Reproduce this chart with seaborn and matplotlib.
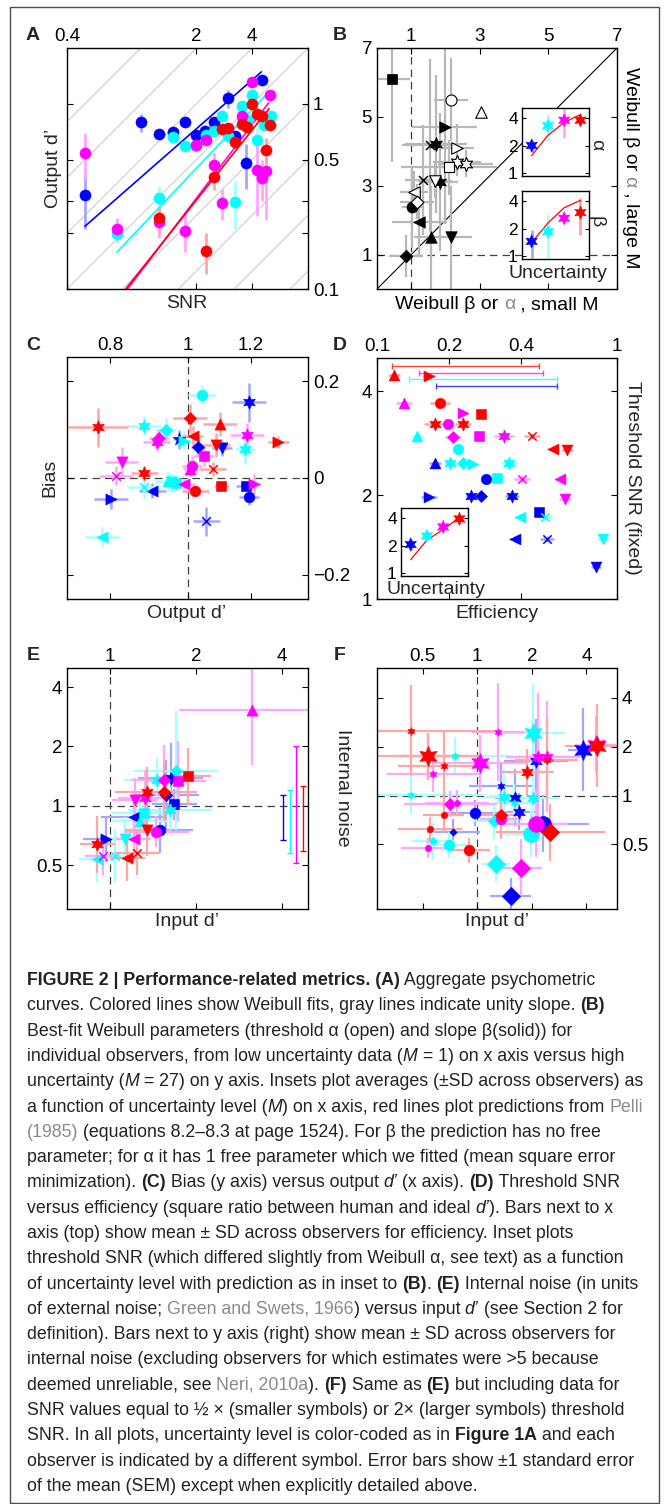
import numpy as np
import pandas as pd
import matplotlib
matplotlib.use('Agg')
import matplotlib.pyplot as plt
from matplotlib.ticker import NullLocator
from matplotlib.patches import Rectangle
from matplotlib import font_manager as fm
import seaborn as sns

# ---------------- DATA ----------------
ORDER = ['b', 'c', 'm', 'r']

# Panel A: SNR vs output d'
A_blue_x = [0.50, 1.00, 1.25, 1.49, 1.74, 1.99, 2.23, 2.48, 2.97, 3.23, 3.70, 4.49]
A_blue_y = [0.320, 0.794, 0.69, 0.701, 0.80, 0.676, 0.716, 0.797, 1.068, 0.667, 0.476, 1.346]
A_blue_e = [0.11, 0.09, 0.03, 0.03, 0.03, 0.03, 0.03, 0.03, 0.12, 0.04, 0.13, 0.08]
A_cyan_x = [0.746, 1.25, 1.49, 1.74, 1.99, 2.25, 2.48, 2.74, 2.97, 3.23, 3.51, 3.78, 4.0, 4.22, 4.64, 5.04]
A_cyan_y = [0.198, 0.311, 0.662, 0.59, 0.59, 0.681, 0.71, 0.855, 0.667, 0.296, 0.976, 0.82, 1.118, 0.64, 0.771, 0.855]
A_cyan_e = [0.02, 0.05, 0.04, 0.03, 0.03, 0.04, 0.03, 0.04, 0.05, 0.085, 0.06, 0.05, 0.08, 0.17, 0.06, 0.05]
A_mag_x = [0.50, 0.746, 1.25, 1.74, 1.99, 2.25, 2.48, 2.74, 3.51, 3.97, 4.22, 4.49, 4.74, 4.98]
A_mag_y = [0.543, 0.212, 0.230, 0.206, 0.597, 0.635, 0.47, 0.292, 0.862, 1.318, 0.438, 0.398, 0.435, 1.109]
A_mag_e = [0.15, 0.03, 0.042, 0.047, 0.03, 0.03, 0.07, 0.055, 0.05, 0.06, 0.19, 0.1, 0.2, 0.06]
A_red_x = [1.25, 2.25, 2.48, 2.74, 2.97, 3.23, 3.51, 3.73, 3.97, 4.22, 4.49, 4.74, 4.98]
A_red_y = [0.241, 0.161, 0.402, 0.731, 0.74, 0.62, 0.777, 0.746, 0.992, 0.88, 0.855, 0.566, 0.771]
A_red_e = [0.04, 0.04, 0.06, 0.03, 0.03, 0.04, 0.04, 0.03, 0.05, 0.04, 0.04, 0.09, 0.04]
A_DATA = {'b': (A_blue_x, A_blue_y, A_blue_e), 'c': (A_cyan_x, A_cyan_y, A_cyan_e),
          'm': (A_mag_x, A_mag_y, A_mag_e), 'r': (A_red_x, A_red_y, A_red_e)}
# Weibull fit lines (end points)
FIT_X = {'b': [0.50, 4.48], 'c': [0.743, 4.76], 'm': [0.85, 4.9], 'r': [0.83, 4.93]}
FIT_Y = {'b': [0.218, 1.486], 'c': [0.158, 1.118], 'm': [0.10, 1.01], 'r': [0.10, 0.94]}
UNITY_C = [2, 1, 0.5, 0.25, 0.125, 0.0625, 0.03125, 0.015625]

# Panel B: Weibull params, small M vs large M
B_sol_mk = ['s', '>', 'hex', 'x', 'hex', 'x', 'o', '<', '^', 'v', 'D']
B_sol_x = [0.45, 1.98, 1.72, 1.54, 1.85, 1.33, 1.03, 1.23, 1.57, 2.16, 0.84]
B_sol_y = [6.09, 4.70, 4.22, 4.17, 3.10, 3.17, 2.38, 1.96, 1.50, 1.50, 0.96]
B_sol_xe = [0.5, 0.95, 0.9, 0.8, 0.5, 0.5, 0.3, 0.8, 0.5, 0.6, 0.5]
B_sol_ye = [2.4, 2.8, 2.0, 2.5, 2.0, 1.6, 1.2, 1.0, 1.5, 1.5, 0.6]
B_opn_mk = ['o', '^', '>', 'hex', 'hex', 's', 'v', '<', 'D']
B_opn_x = [2.16, 3.02, 2.34, 2.34, 2.59, 2.09, 1.70, 1.08, 1.17]
B_opn_y = [5.50, 5.14, 4.10, 3.68, 3.64, 3.53, 3.13, 2.83, 2.54]
B_opn_xe = [0.5, 0.0, 0.5, 0.7, 0.8, 1.4, 0.5, 0.4, 0.5]
B_opn_ye = [1.2, 0.0, 0.7, 0.4, 0.4, 0.8, 0.5, 0.6, 0.5]

# Insets (uncertainty level M)
INS_M = [1, 3, 9, 27]
ALPHA_MEAN = [2.0, 3.32, 3.81, 3.81]
ALPHA_SD = [0.3, 1.1, 1.4, 0.4]
ALPHA_PRED = [1.55, 2.59, 3.6, 4.4]
BETA_MEAN = [1.44, 1.84, 2.6, 3.0]
BETA_SD = [0.5, 1.0, 0.2, 1.3]
BETA_PRED = [1.4, 2.3, 3.4, 4.1]
SNR_MEAN = [2.05, 2.55, 3.21, 3.94]
SNR_SD = [0.25, 0.25, 0.3, 0.3]
SNR_PRED = [1.39, 2.3, 3.0, 4.1]

# Panel C: output d' vs bias  (colour, marker, x, y, x-error factor, y-error)
C_col = ['r'] * 10 + ['c'] * 10 + ['b'] * 9 + ['m'] * 10
C_mk = ['hex', 'hex', 'D', '^', '<', 'v', '>', 'x', 's', 'o',
        'o', 'hex', 'D', '>', 'hex', 'x', '^', 'v', 's', '<',
        'hex', '*', 'D', 'v', 's', 'o', '<', '>', 'x',
        'D', 'hex', 'v', 'x', 's', 'o', '^', '<', '>', 'hex']
C_x = [0.772, 0.883, 1.008, 1.098, 1.015, 1.085, 1.298, 1.075, 1.101, 1.023,
       1.042, 0.883, 0.939, 0.991, 1.179, 0.883, 0.945, 0.954, 0.968, 0.781,
       1.194, 0.977, 1.030, 1.104, 1.183, 1.194, 0.904, 0.802, 1.055,
       0.921, 1.185, 0.827, 0.813, 1.047, 1.013, 1.008, 0.991, 1.211, 0.915]
C_y = [0.1045, 0.0096, 0.1237, 0.111, 0.087, 0.068, 0.075, 0.0186, -0.0172, -0.026,
       0.172, 0.108, 0.0997, 0.077, 0.0598, -0.0179, -0.0069, -0.009, -0.011, -0.122,
       0.156, 0.080, 0.065, 0.061, -0.0172, -0.040, -0.026, -0.0433, -0.0893,
       0.0818, 0.0887, 0.0337, 0.0048, 0.0447, 0.0254, 0.0186, -0.0124, -0.0124, 0.075]
C_xe = [1.09, 1.04, 1.05, 1.05, 1.03, 1.04, 1.03, 1.04, 1.02, 1.04,
        1.04, 1.05, 1.03, 1.03, 1.03, 1.05, 1.04, 1.03, 1.04, 1.05,
        1.05, 1.02, 1.02, 1.03, 1.03, 1.03, 1.04, 1.05, 1.04,
        1.03, 1.05, 1.05, 1.05, 1.03, 1.03, 1.02, 1.03, 1.02, 1.04]
C_ye = [0.04, 0.015, 0.03, 0.025, 0.02, 0.025, 0.012, 0.015, 0.01, 0.008,
        0.02, 0.02, 0.025, 0.02, 0.03, 0.025, 0.02, 0.02, 0.015, 0.02,
        0.04, 0.02, 0.02, 0.015, 0.01, 0.015, 0.015, 0.02, 0.03,
        0.02, 0.025, 0.03, 0.02, 0.02, 0.02, 0.015, 0.01, 0.02, 0.02]

# Panel D: efficiency vs threshold SNR
D_col = ['r'] * 9 + ['m'] * 9 + ['c'] * 10 + ['b'] * 10
D_mk = ['^', '>', 'o', 's', 'hex', 'hex', 'x', '<', 'v',
        '^', '>', 'o', 'D', 's', 'hex', 'x', '<', 'v',
        '^', 'o', 'hex', 'D', '>', 'hex', 's', '<', 'x', 'v',
        '^', 'o', '>', 'hex', 'D', 'hex', 's', '<', 'x', 'v']
D_x = [0.118, 0.164, 0.183, 0.271, 0.175, 0.228, 0.442, 0.539, 0.621,
       0.130, 0.228, 0.198, 0.207, 0.267, 0.339, 0.402, 0.579, 0.609,
       0.147, 0.218, 0.201, 0.228, 0.252, 0.356, 0.315, 0.394, 0.501, 0.877,
       0.175, 0.285, 0.164, 0.246, 0.271, 0.364, 0.472, 0.376, 0.512, 0.815]
D_y = [4.46, 4.44, 3.70, 3.44, 3.21, 3.21, 2.97, 2.72, 2.70,
       3.70, 3.47, 3.21, 2.95, 2.97, 2.97, 2.23, 2.23, 1.95,
       2.97, 2.73, 2.48, 2.48, 2.46, 2.48, 2.25, 1.73, 1.73, 1.49,
       2.48, 2.23, 1.98, 1.99, 1.99, 1.99, 1.79, 1.49, 1.49, 1.24]
D_xe = [1.06, 1.06, 1.10, 1.0, 1.12, 1.08, 1.08, 1.06, 1.06,
        1.08, 1.05, 1.03, 1.08, 1.02, 1.10, 1.08, 1.04, 1.06,
        1.06, 1.03, 1.05, 1.04, 1.04, 1.08, 1.02, 1.06, 1.07, 1.06,
        1.06, 1.03, 1.08, 1.05, 1.04, 1.07, 1.02, 1.06, 1.07, 1.05]
D_ye = [1.02] * 38
EFF_MEAN = {'r': 0.295, 'm': 0.32, 'c': 0.35, 'b': 0.37}
EFF_SD = {'r': 0.18, 'm': 0.17, 'c': 0.2135, 'b': 0.1945}

# Panel E: input d' vs internal noise
E_col = ['m'] * 8 + ['r'] * 7 + ['c'] * 8 + ['b'] * 6
E_mk = ['^', 'D', 's', 'v', 'hex', '<', 'o', 'x',
        's', 'D', 'hex', 'v', 'hex', '<', 'x',
        'D', 'hex', 's', 'v', '^', '<', 'x', 'hex',
        'hex', 'D', 's', '<', '>', 'o']
E_x = [3.13, 1.54, 1.73, 1.22, 1.33, 1.21, 1.45, 0.943,
       1.88, 1.55, 1.35, 1.35, 0.903, 1.15, 1.24,
       1.70, 1.46, 1.32, 1.13, 1.27, 0.898, 1.04, 1.62,
       1.63, 1.57, 1.68, 1.21, 0.968, 1.50]
E_y = [3.05, 1.35, 1.33, 1.07, 1.09, 0.679, 0.74, 0.558,
       1.41, 1.17, 1.17, 0.754, 0.637, 0.541, 0.578,
       1.51, 1.35, 0.917, 0.679, 0.841, 0.537, 0.558, 0.954,
       1.39, 1.14, 1.02, 0.882, 0.676, 0.754]
E_xe = [1.8, 1.3, 1.25, 1.2, 1.25, 1.15, 1.3, 1.15,
        1.2, 1.3, 1.3, 1.2, 1.15, 1.15, 1.2,
        1.4, 1.3, 1.3, 1.2, 1.25, 1.15, 1.15, 1.4,
        1.3, 1.3, 1.2, 1.3, 1.2, 1.3]
E_ye = [1.9, 1.5, 1.6, 1.3, 1.4, 1.3, 1.2, 1.25,
        1.4, 1.4, 1.35, 1.35, 1.4, 1.3, 1.3,
        2.0, 1.3, 1.25, 1.3, 1.3, 1.3, 1.35, 1.3,
        1.5, 1.5, 1.2, 1.3, 1.3, 1.3]
NOISE_MEAN = {'b': 0.905, 'c': 0.89, 'm': 1.256, 'r': 0.927}
NOISE_SD = {'b': 0.233, 'c': 0.316, 'm': 0.744, 'r': 0.338}

# Panel F: as E incl. half (s) and double (l) threshold SNR
F_col = ['r'] * 11 + ['m'] * 12 + ['c'] * 11 + ['b'] * 10
F_mk = ['hex', 'hex', 'hex', 'hex', 'hex', 'hex', 'o', 'o', 'o', 'D', 'D',
        'hex', 'hex', 'hex', 'hex', 'hex', 'hex', 'o', 'o', 'o', 'D', 'D', 'D',
        'hex', 'hex', 'hex', 'hex', 'hex', 'hex', 'o', 'o', 'o', 'D', 'D',
        'hex', 'hex', 'hex', 'hex', 'hex', 'hex', 'o', 'o', 'D', 'D']
F_sz = ['s', 'l', 's', 'm', 's', 'l', 's', 's', 'm', 'm', 'l',
        's', 'l', 's', 'm', 'm', 'l', 's', 'm', 'l', 'm', 's', 'l',
        's', 's', 'l', 'm', 'm', 's', 's', 'm', 'l', 'm', 'l',
        's', 'm', 'm', 'm', 'l', 's', 'm', 'l', 's', 'l']
F_x = [0.431, 0.533, 0.654, 1.89, 2.41, 4.56, 0.654, 0.551, 0.899, 1.35, 2.53,
       1.31, 1.04, 0.57, 2.17, 2.44, 4.50, 0.533, 1.35, 2.10, 0.71, 0.775, 1.75,
       0.431, 0.752, 2.02, 1.41, 2.02, 1.60, 0.57, 0.697, 1.97, 1.24, 1.27,
       1.35, 1.62, 1.69, 2.12, 3.82, 0.533, 0.967, 2.31, 0.736, 1.53]
F_y = [2.51, 1.74, 1.53, 1.39, 1.66, 2.03, 0.76, 0.618, 0.459, 0.754, 0.595,
       2.47, 1.58, 1.36, 1.72, 1.73, 2.05, 0.477, 0.72, 0.67, 0.889, 0.90, 0.358,
       1.01, 1.76, 2.42, 0.977, 0.963, 0.90, 0.522, 0.498, 0.582, 0.70, 0.38,
       1.14, 0.968, 0.797, 1.64, 1.91, 1.74, 0.779, 0.67, 0.60, 0.24]
F_xe = [3.0, 2.0, 1.8, 1.4, 1.5, 1.5, 1.3, 1.5, 1.3, 1.3, 2.0,
        1.4, 1.8, 1.8, 1.5, 1.6, 1.3, 1.4, 1.3, 1.5, 1.8, 1.5, 1.3,
        2.5, 2.0, 1.5, 1.3, 1.4, 1.3, 1.3, 1.3, 1.4, 1.3, 1.2,
        1.5, 1.3, 1.3, 1.5, 1.2, 1.5, 1.5, 1.8, 1.4, 1.3]
F_ye = [1.9, 1.4, 1.6, 1.4, 1.8, 1.8, 1.3, 1.2, 1.2, 1.4, 1.5,
        2.0, 1.5, 1.3, 2.5, 2.2, 1.5, 1.15, 1.3, 1.6, 1.2, 1.2, 1.5,
        1.3, 1.3, 2.0, 1.5, 1.6, 1.3, 1.3, 1.2, 1.4, 1.3, 1.3,
        1.4, 1.5, 1.3, 1.8, 1.8, 1.4, 1.2, 1.5, 1.2, 1.3]

# ---------------- STYLE ----------------
W, H = 668, 1504
sns.set_style('ticks')
plt.rcParams['font.family'] = ['Liberation Sans', 'DejaVu Sans']
plt.rcParams['axes.linewidth'] = 1.0
FAM = ['Liberation Sans', 'DejaVu Sans']
TICK_FS = 13.5
LAB_FS = 14
COL = {'b': (0, 0, 1), 'c': (0, 1, 1), 'm': (1, 0, 1), 'r': (1, 0, 0)}
LIGHT = {k: tuple(0.35 * v + 0.65 for v in c) for k, c in COL.items()}
MK = {'o': 'o', 's': 's', 'D': 'D', '^': '^', 'v': 'v', '<': '<', '>': '>',
      'hex': (6, 1, 0), '*': '*', 'x': 'x'}
MS = {'o': 60, 's': 48, 'D': 40, '^': 65, 'v': 65, '<': 65, '>': 65,
      'hex': 95, '*': 95, 'x': 38}
FSZ = {'s': 0.36, 'm': 1.0, 'l': 2.2}

fig = plt.figure(figsize=(W / 100, H / 100), dpi=100)
fig.patch.set_facecolor('white')
renderer = fig.canvas.get_renderer()


def add_ax(x0, y0, x1, y1):
    return fig.add_axes([x0 / W, 1 - y1 / H, (x1 - x0) / W, (y1 - y0) / H])


def ftxt(x, y, s, **kw):
    kw.setdefault('family', FAM)
    return fig.text(x / W, 1 - y / H, s, **kw)


def style_axes(ax, xt, xl, yt, yl, xtop=True, yright=False, length=4.5, fs=TICK_FS):
    ax.set_xticks(xt, labels=xl)
    ax.set_yticks(yt, labels=yl)
    ax.xaxis.set_minor_locator(NullLocator())
    ax.yaxis.set_minor_locator(NullLocator())
    ax.tick_params(which='both', direction='in', length=length, width=0.8,
                   top=True, bottom=True, left=True, right=True,
                   labelsize=fs, colors='black')
    ax.tick_params(axis='x', labeltop=xtop, labelbottom=not xtop, pad=2)
    ax.tick_params(axis='y', labelright=yright, labelleft=not yright, pad=3.5)
    for sp in ax.spines.values():
        sp.set_linewidth(1.0)
        sp.set_color('black')
        sp.set_visible(True)
    ax.set_xlabel('')
    ax.set_ylabel('')


def logerr(v, f):
    v = np.asarray(v, float)
    f = np.asarray(f, float)
    return [v - v / f, v * f - v]


def scatter_groups(ax, df, scale=1.0, sizecol=None):
    for k in ORDER:
        sub = df[df['col'] == k]
        keys = ['mk'] + ([sizecol] if sizecol else [])
        for key, g in sub.groupby(keys, sort=False):
            mk = key[0] if isinstance(key, tuple) else key
            s = MS[mk] * scale * (FSZ[key[1]] if sizecol else 1.0)
            if mk == 'x':
                sns.scatterplot(data=g, x='x', y='y', ax=ax, color=COL[k], marker='x',
                                s=s, linewidth=1.1, legend=False, zorder=3)
            else:
                sns.scatterplot(data=g, x='x', y='y', ax=ax, color=COL[k], marker=MK[mk],
                                s=s, edgecolor=COL[k], linewidth=0.4, legend=False, zorder=3)


def errors_groups(ax, df, xlog=True, ylog=True, lw=1.8):
    for k in ORDER:
        g = df[df['col'] == k]
        xe = logerr(g['x'], g['xe']) if xlog else g['xe'].values
        ye = logerr(g['y'], g['ye']) if ylog else g['ye'].values
        ax.errorbar(g['x'], g['y'], xerr=xe, yerr=ye, fmt='none', ecolor=LIGHT[k],
                    elinewidth=lw, capsize=0, zorder=1)


DASH = dict(color='0.25', lw=0.9, ls=(0, (6, 4)), zorder=0.5)

# ---------------- PANEL A ----------------
axA = add_ax(67, 48, 308, 289)
axA.set_xscale('log'); axA.set_yscale('log')
xx = np.array([0.1, 40.0])
for cc in UNITY_C:
    axA.plot(xx, cc * xx, color='0.8', lw=0.8, zorder=0)
for k in ORDER:
    x, y, e = A_DATA[k]
    axA.errorbar(x, y, yerr=e, fmt='none', ecolor=LIGHT[k], elinewidth=2, zorder=1)
for k in ORDER:
    sns.lineplot(x=FIT_X[k], y=FIT_Y[k], color=COL[k], lw=1.2, ax=axA, zorder=2)
for k in ORDER:
    x, y, e = A_DATA[k]
    sns.scatterplot(x=x, y=y, color=COL[k], s=64, edgecolor=COL[k], linewidth=0.4,
                    ax=axA, zorder=3, legend=False)
axA.set_xlim(0.4, 8); axA.set_ylim(0.1, 2)
style_axes(axA, [0.4, 2, 4], ['0.4', '2', '4'], [0.1, 0.2, 0.3, 0.5, 1],
           ['0.1', '', '', '0.5', '1'], xtop=True, yright=True)

# ---------------- PANEL B ----------------
axB = add_ax(377, 48, 617, 289)
axB.axvline(1, **DASH); axB.axhline(1, **DASH)
sns.lineplot(x=[0, 7], y=[0, 7], color='black', lw=0.8, ax=axB, zorder=0.6)
axB.errorbar(B_sol_x, B_sol_y, xerr=B_sol_xe, yerr=B_sol_ye, fmt='none',
             ecolor='0.72', elinewidth=1.6, zorder=1)
axB.errorbar(B_opn_x, B_opn_y, xerr=B_opn_xe, yerr=B_opn_ye, fmt='none',
             ecolor='0.72', elinewidth=1.6, zorder=1)
dsol = pd.DataFrame({'mk': B_sol_mk, 'x': B_sol_x, 'y': B_sol_y})
dopn = pd.DataFrame({'mk': B_opn_mk, 'x': B_opn_x, 'y': B_opn_y})
for mk, g in dsol.groupby('mk', sort=False):
    if mk == 'x':
        sns.scatterplot(data=g, x='x', y='y', color='black', marker='x', s=42,
                        linewidth=1.1, ax=axB, legend=False, zorder=3)
    else:
        sns.scatterplot(data=g, x='x', y='y', color='black', marker=MK[mk], s=MS[mk] * 1.05,
                        edgecolor='black', linewidth=0.5, ax=axB, legend=False, zorder=3)
for mk, g in dopn.groupby('mk', sort=False):
    sns.scatterplot(data=g, x='x', y='y', color='white', marker=MK[mk], s=MS[mk] * 1.05,
                    edgecolor='black', linewidth=0.8, ax=axB, legend=False, zorder=3)
axB.set_xlim(0, 7); axB.set_ylim(0, 7)
style_axes(axB, [1, 3, 5, 7], ['1', '3', '5', '7'], [1, 3, 5, 7], ['1', '3', '5', '7'],
           xtop=True, yright=False)


def inset(box, mean, sd, pred):
    ax = add_ax(*box)
    ax.set_facecolor('white')
    ax.set_xscale('log'); ax.set_yscale('log')
    for i, k in enumerate(ORDER):
        ax.errorbar(INS_M[i], mean[i], yerr=sd[i], fmt='none', ecolor=LIGHT[k],
                    elinewidth=2, zorder=1)
    sns.lineplot(x=INS_M, y=pred, color='red', lw=0.9, ax=ax, zorder=2)
    df = pd.DataFrame({'M': INS_M, 'v': mean, 'k': ORDER})
    sns.scatterplot(data=df, x='M', y='v', hue='k', palette=COL, marker=(6, 1, 0), s=95,
                    edgecolor='face', linewidth=0.3, legend=False, ax=ax, zorder=3)
    ax.set_xlim(0.52, 48); ax.set_ylim(0.92, 5.2)
    style_axes(ax, [], [], [1, 2, 4], ['1', '2', '4'], xtop=False, yright=False,
               length=3, fs=12.5)
    ax.tick_params(axis='x', which='both', top=False, bottom=False)
    ax.tick_params(axis='y', pad=3)
    ax.set_zorder(5)
    return ax


inset((522, 108, 589, 176), ALPHA_MEAN, ALPHA_SD, ALPHA_PRED)
inset((522, 191, 589, 259), BETA_MEAN, BETA_SD, BETA_PRED)

# ---------------- PANEL C ----------------
axC = add_ax(67, 357, 308, 599)
axC.set_xscale('log')
axC.axvline(1, **DASH); axC.axhline(0, **DASH)
dC = pd.DataFrame({'col': C_col, 'mk': C_mk, 'x': C_x, 'y': C_y, 'xe': C_xe, 'ye': C_ye})
errors_groups(axC, dC, xlog=True, ylog=False)
scatter_groups(axC, dC)
axC.set_xlim(0.707, 1.414); axC.set_ylim(-0.25, 0.25)
style_axes(axC, [0.8, 1, 1.2], ['0.8', '1', '1.2'], [-0.2, 0, 0.2], ['\u22120.2', '0', '0.2'],
           xtop=True, yright=True)

# ---------------- PANEL D ----------------
axD = add_ax(377, 358, 617, 599)
axD.set_xscale('log'); axD.set_yscale('log')
dD = pd.DataFrame({'col': D_col, 'mk': D_mk, 'x': D_x, 'y': D_y, 'xe': D_xe, 'ye': D_ye})
errors_groups(axD, dD)
scatter_groups(axD, dD, scale=0.95)
EFF_BAR_Y = {'r': 4.74, 'm': 4.53, 'c': 4.34, 'b': 4.15}
for k in ['r', 'm', 'c', 'b']:
    axD.errorbar([EFF_MEAN[k]], [EFF_BAR_Y[k]], xerr=[EFF_SD[k]], fmt='none',
                 ecolor=tuple(0.75 * v + 0.25 for v in COL[k]), elinewidth=1.0,
                 capsize=2, capthick=1.0, zorder=2)
axD.set_xlim(0.1, 1); axD.set_ylim(1, 5)
style_axes(axD, [0.1, 0.2, 0.4, 1], ['0.1', '0.2', '0.4', '1'], [1, 2, 4], ['1', '2', '4'],
           xtop=True, yright=False)
inset((401, 508, 468, 576), SNR_MEAN, SNR_SD, SNR_PRED)

# ---------------- PANEL E ----------------
axE = add_ax(67, 668, 308, 909)
axE.set_xscale('log'); axE.set_yscale('log')
axE.axvline(1, **DASH); axE.axhline(1, **DASH)
dE = pd.DataFrame({'col': E_col, 'mk': E_mk, 'x': E_x, 'y': E_y, 'xe': E_xe, 'ye': E_ye})
errors_groups(axE, dE, lw=1.6)
scatter_groups(axE, dE)
NOISE_BAR_X = {'b': 4.03, 'c': 4.27, 'm': 4.48, 'r': 4.74}
for k in ORDER:
    axE.errorbar([NOISE_BAR_X[k]], [NOISE_MEAN[k]], yerr=[NOISE_SD[k]], fmt='none',
                 ecolor=COL[k], elinewidth=1.0, capsize=2, capthick=1.0, zorder=2)
axE.set_xlim(0.707, 4.93); axE.set_ylim(0.3, 5)
style_axes(axE, [1, 2, 4], ['1', '2', '4'], [0.5, 1, 2, 4], ['0.5', '1', '2', '4'],
           xtop=True, yright=False)

# ---------------- PANEL F ----------------
axF = add_ax(377, 668, 617, 909)
axF.set_xscale('log'); axF.set_yscale('log')
axF.axvline(1, **DASH); axF.axhline(1, **DASH)
dF = pd.DataFrame({'col': F_col, 'mk': F_mk, 'sz': F_sz, 'x': F_x, 'y': F_y,
                   'xe': F_xe, 'ye': F_ye})
errors_groups(axF, dF, lw=1.6)
scatter_groups(axF, dF, sizecol='sz')
axF.set_xlim(0.28, 5.9); axF.set_ylim(0.2, 6.1)
style_axes(axF, [0.5, 1, 2, 4], ['0.5', '1', '2', '4'], [0.5, 1, 2, 4], ['0.5', '1', '2', '4'],
           xtop=True, yright=True)

# ---------------- TEXT HELPERS ----------------
def measure(s, size, family, **kw):
    t1 = fig.text(0, 0, '|' + s + '|', fontsize=size, family=family, **kw)
    t2 = fig.text(0, 0, '||', fontsize=size, family=family, **kw)
    w = t1.get_window_extent(renderer).width - t2.get_window_extent(renderer).width
    t1.remove(); t2.remove()
    return w


def seg_kw(code, base, gray):
    kw = dict(color=base, fontweight='normal', fontstyle='normal')
    if code == 'b':
        kw['fontweight'] = 'bold'
    if code == 'i':
        kw['fontstyle'] = 'italic'
    if code == 'g':
        kw['color'] = gray
    return kw


def draw_segments(x, y, segs, size, family, base='black', gray='0.55',
                  center=False, rotation=0):
    kws = [seg_kw(c, base, gray) for _, c in segs]
    ws = [measure(s, size, family, **k) for (s, _), k in zip(segs, kws)]
    tot = sum(ws)
    if rotation == 0:
        pos = x - tot / 2 if center else x
    else:
        pos = y - tot / 2 if center else y
    for (s, _), k, w in zip(segs, kws, ws):
        if rotation == 0:
            fig.text(pos / W, 1 - y / H, s, fontsize=size, family=family,
                     ha='left', va='baseline', **k)
        else:
            fig.text(x / W, 1 - pos / H, s, fontsize=size, family=family,
                     rotation=-90, ha='center', va='top', **k)
        pos += w
    return tot

# ---------------- LABELS ----------------
for letter, (lx, ly) in {'A': (33, 35), 'B': (340, 35), 'C': (33, 345), 'D': (340, 345),
                         'E': (33, 655), 'F': (340, 655)}.items():
    ftxt(lx, ly, letter, fontsize=14, fontweight='bold', ha='center', va='center')

ftxt(187, 303, 'SNR', fontsize=LAB_FS, ha='center', va='center')
ftxt(54, 168, 'Output d\u2019', fontsize=LAB_FS, ha='center', va='center', rotation=90)
draw_segments(497, 309, [('Weibull \u03b2 or ', 'n'), ('\u03b1', 'g'), (' , small M', 'n')],
              LAB_FS, FAM, center=True)
draw_segments(630, 168, [('Weibull \u03b2 or ', 'n'), ('\u03b1', 'g'), (' , large M', 'n')],
              LAB_FS, FAM, center=True, rotation=-90)
ftxt(597, 145, '\u03b1', fontsize=LAB_FS, ha='center', va='center', rotation=-90)
ftxt(596, 222, '\u03b2', fontsize=LAB_FS, ha='center', va='center', rotation=-90)
ftxt(558, 274, 'Uncertainty', fontsize=LAB_FS, ha='center', va='center')

ftxt(50, 478, 'Bias', fontsize=LAB_FS, ha='center', va='center', rotation=90)
ftxt(187, 613, 'Output d\u2019', fontsize=LAB_FS, ha='center', va='center')
ftxt(497, 613, 'Efficiency', fontsize=LAB_FS, ha='center', va='center')
ftxt(632, 478, 'Threshold SNR (fixed)', fontsize=LAB_FS, ha='center', va='center', rotation=-90)
ftxt(436, 590, 'Uncertainty', fontsize=LAB_FS, ha='center', va='center')

ftxt(187, 922, 'Input d\u2019', fontsize=LAB_FS, ha='center', va='center')
ftxt(497, 922, 'Input d\u2019', fontsize=LAB_FS, ha='center', va='center')
ftxt(343, 788, 'Internal noise', fontsize=LAB_FS, ha='center', va='center', rotation=-90)

# ---------------- CAPTION ----------------
CAPTION = [
    [("FIGURE 2 | Performance-related metrics. (A)", 'b'), (" Aggregate psychometric", 'n')],
    [("curves. Colored lines show Weibull fits, gray lines indicate unity slope. ", 'n'), ("(B)", 'b')],
    [("Best-fit Weibull parameters (threshold \u03b1 (open) and slope \u03b2(solid)) for", 'n')],
    [("individual observers, from low uncertainty data (", 'n'), ("M", 'i'), (" = 1) on x axis versus high", 'n')],
    [("uncertainty (", 'n'), ("M", 'i'), (" = 27) on y axis. Insets plot averages (\u00b1SD across observers) as", 'n')],
    [("a function of uncertainty level (", 'n'), ("M", 'i'), (") on x axis, red lines plot predictions from ", 'n'), ("Pelli", 'g')],
    [("(1985)", 'g'), (" (equations 8.2\u20138.3 at page 1524). For \u03b2 the prediction has no free", 'n')],
    [("parameter; for \u03b1 it has 1 free parameter which we fitted (mean square error", 'n')],
    [("minimization). ", 'n'), ("(C)", 'b'), (" Bias (y axis) versus output ", 'n'), ("d\u2019", 'i'),
     (" (x axis). ", 'n'), ("(D)", 'b'), (" Threshold SNR", 'n')],
    [("versus efficiency (square ratio between human and ideal ", 'n'), ("d\u2019", 'i'), ("). Bars next to x", 'n')],
    [("axis (top) show mean \u00b1 SD across observers for efficiency. Inset plots", 'n')],
    [("threshold SNR (which differed slightly from Weibull \u03b1, see text) as a function", 'n')],
    [("of uncertainty level with prediction as in inset to ", 'n'), ("(B)", 'b'), (". ", 'n'), ("(E)", 'b'),
     (" Internal noise (in units", 'n')],
    [("of external noise; ", 'n'), ("Green and Swets, 1966", 'g'), (") versus input ", 'n'), ("d\u2019", 'i'),
     (" (see Section 2 for", 'n')],
    [("definition). Bars next to y axis (right) show mean \u00b1 SD across observers for", 'n')],
    [("internal noise (excluding observers for which estimates were >5 because", 'n')],
    [("deemed unreliable, see ", 'n'), ("Neri, 2010a", 'g'), ("). ", 'n'), ("(F)", 'b'), (" Same as ", 'n'),
     ("(E)", 'b'), (" but including data for", 'n')],
    [("SNR values equal to \u00bd \u00d7 (smaller symbols) or 2\u00d7 (larger symbols) threshold", 'n')],
    [("SNR. In all plots, uncertainty level is color-coded as in ", 'n'), ("Figure 1A", 'b'), (" and each", 'n')],
    [("observer is indicated by a different symbol. Error bars show \u00b11 standard error", 'n')],
    [("of the mean (SEM) except when explicitly detailed above.", 'n')],
]

names = {f.name for f in fm.fontManager.ttflist}
CAP_FONT = 'Liberation Sans Narrow' if 'Liberation Sans Narrow' in names else 'Liberation Sans'
CAP_FAM = [CAP_FONT, 'DejaVu Sans']
CAP_COLOR = '#222222'
ref_w = sum(measure(s, 10, CAP_FAM, **seg_kw(c, CAP_COLOR, '0.55')) for s, c in CAPTION[5])
cap_size = 10 * 622.0 / ref_w
for i, line in enumerate(CAPTION):
    draw_segments(27, 985 + 25.3 * i, line, cap_size, CAP_FAM, base=CAP_COLOR,
                  gray='#8a8a8a')

# frame
fig.patches.append(Rectangle((10 / W, 1 - 1503 / H), 649 / W, 1496 / H,
                             transform=fig.transFigure, fill=False,
                             edgecolor='0.3', lw=1.0))

fig.savefig('out.png', dpi=100, facecolor='white')
